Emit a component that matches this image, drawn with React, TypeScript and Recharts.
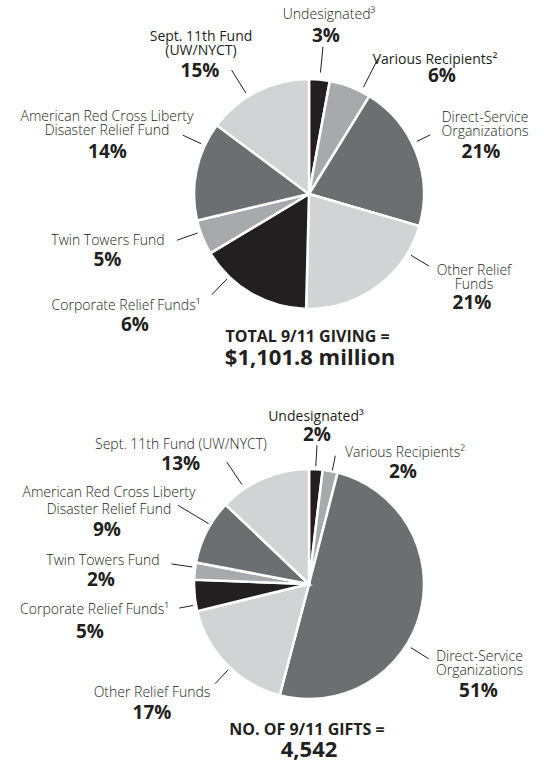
import React from "react";
import { PieChart, Pie, Cell } from "recharts";

// ---- data ----
const categories = [
  "Undesignated³",
  "Various Recipients²",
  "Direct-Service Organizations",
  "Other Relief Funds",
  "Corporate Relief Funds¹",
  "Twin Towers Fund",
  "American Red Cross Liberty Disaster Relief Fund",
  "Sept. 11th Fund (UW/NYCT)",
];
// share of dollars (slice sizes as drawn)
const givingShares = [2.9, 5.9, 20.7, 20.9, 16, 4.9, 13.9, 14.8];
// share of number of gifts (slice sizes as drawn)
const giftShares = [1.9, 2.1, 50.1, 17.1, 4.4, 2.4, 9.1, 12.9];
// printed percentage labels
const givingPctLabels = ["3%", "6%", "21%", "21%", "6%", "5%", "14%", "15%"];
const giftPctLabels = ["2%", "2%", "51%", "17%", "5%", "2%", "9%", "13%"];
const givingTotalLines = ["TOTAL 9/11 GIVING =", "$1,101.8 million"];
const giftTotalLines = ["NO. OF 9/11 GIFTS =", "4,542"];

// label line breaks
const givingNameLines = [
  ["Undesignated³"],
  ["Various Recipients²"],
  ["Direct-Service", "Organizations"],
  ["Other Relief", "Funds"],
  ["Corporate Relief Funds¹"],
  ["Twin Towers Fund"],
  ["American Red Cross Liberty", "Disaster Relief Fund"],
  ["Sept. 11th Fund", "(UW/NYCT)"],
];
const giftNameLines = [
  ["Undesignated³"],
  ["Various Recipients²"],
  ["Direct-Service", "Organizations"],
  ["Other Relief Funds"],
  ["Corporate Relief Funds¹"],
  ["Twin Towers Fund"],
  ["American Red Cross Liberty", "Disaster Relief Fund"],
  ["Sept. 11th Fund (UW/NYCT)"],
];

// ---- styling / layout ----
const COLORS = ["#231f20", "#a7a9ac", "#6d6e71", "#d1d3d4", "#231f20", "#a7a9ac", "#6d6e71", "#d1d3d4"];
const FONT = "'Open Sans', 'Noto Sans', sans-serif";
const INK = "#231f20";

type Lay = { x: number; y: number; lh: number; px: number; py: number; w: number; a: number; r1: number; r2: number };

const givingLayout: Lay[] = [
  { x: 20, y: -175, lh: 13, px: 17, py: -152, w: 300, a: 5.4, r1: 122, r2: 148 },
  { x: 126, y: -130, lh: 13, px: 133, py: -112, w: 500, a: 27, r1: 120, r2: 152 },
  { x: 176, y: -72, lh: 14, px: 172, py: -36, w: 300, a: 64, r1: 120, r2: 135 },
  { x: 165, y: 81, lh: 14, px: 163, py: 115, w: 300, a: 121, r1: 119, r2: 140 },
  { x: -183, y: 116, lh: 13, px: -174, py: 137, w: 300, a: 224, r1: 118, r2: 140 },
  { x: -201, y: 51, lh: 13, px: -201.5, py: 72, w: 300, a: 250.7, r1: 118, r2: 140 },
  { x: -202, y: -73, lh: 14, px: -201.5, py: -36, w: 300, a: 295, r1: 119, r2: 139 },
  { x: -108, y: -153, lh: 14, px: -109, py: -117, w: 500, a: 328, r1: 119, r2: 146 },
];
const giftLayout: Lay[] = [
  { x: 7, y: -163, lh: 13, px: 8, py: -143, w: 500, a: 3.3, r1: 118, r2: 139 },
  { x: 96, y: -127, lh: 13, px: 94, py: -106, w: 300, a: 11.6, r1: 116, r2: 131 },
  { x: 170.5, y: 77, lh: 14, px: 169.5, py: 113, w: 300, a: 122, r1: 120, r2: 141 },
  { x: -157, y: 113, lh: 13, px: -157, py: 135, w: 300, a: 223.3, r1: 118, r2: 137 },
  { x: -214.5, y: 30, lh: 13, px: -219, py: 54, w: 300, a: 259.5, r1: 118, r2: 132 },
  { x: -206, y: -19, lh: 13, px: -208, py: 2, w: 300, a: 278.3, r1: 118, r2: 139 },
  { x: -200, y: -87, lh: 17, px: -202, py: -48, w: 300, a: 301, r1: 117, r2: 153 },
  { x: -128, y: -135, lh: 13, px: -128.3, py: -114, w: 300, a: 326, r1: 120, r2: 147 },
];

const givingData = categories.map((name, i) => ({ name, value: givingShares[i] }));
const giftData = categories.map((name, i) => ({ name, value: giftShares[i] }));

const makeLabel = (nameLines: string[][], pcts: string[], layout: Lay[]) => (p: any) => {
  const i = p.index;
  const L = layout[i];
  const cx = p.cx;
  const cy = p.cy;
  const rad = (L.a * Math.PI) / 180;
  const x1 = cx + L.r1 * Math.sin(rad);
  const y1 = cy - L.r1 * Math.cos(rad);
  const x2 = cx + L.r2 * Math.sin(rad);
  const y2 = cy - L.r2 * Math.cos(rad);
  return (
    <g key={`lab-${i}`}>
      <line x1={x1} y1={y1} x2={x2} y2={y2} stroke={INK} strokeWidth={1} />
      {nameLines[i].map((t, k) => (
        <text
          key={k}
          x={cx + L.x}
          y={cy + L.y + k * L.lh}
          textAnchor="middle"
          fontFamily={FONT}
          fontSize={14}
          fontWeight={L.w}
          fill={INK}
        >
          {t}
        </text>
      ))}
      <text
        x={cx + L.px}
        y={cy + L.py}
        textAnchor="middle"
        fontFamily={FONT}
        fontSize={19}
        fontWeight={700}
        fill={INK}
      >
        {pcts[i]}
      </text>
    </g>
  );
};

const W = 544;
const H = 762;
const CX = 309;
const CY_TOP = 194;
const CY_BOT = 584;
const R = 115;

export default function App() {
  return (
    <div style={{ position: "absolute", left: 0, top: 0, width: W, height: H, background: "#fff" }}>
      <PieChart width={W} height={H} margin={{ top: 0, right: 0, bottom: 0, left: 0 }}>
        <Pie
          data={givingData}
          dataKey="value"
          nameKey="name"
          cx={CX}
          cy={CY_TOP}
          outerRadius={R}
          startAngle={90}
          endAngle={-270}
          stroke="#ffffff"
          strokeWidth={2.5}
          isAnimationActive={false}
          labelLine={false}
          label={makeLabel(givingNameLines, givingPctLabels, givingLayout)}
        >
          {givingData.map((d, i) => (
            <Cell key={d.name} fill={COLORS[i]} />
          ))}
        </Pie>
        <Pie
          data={giftData}
          dataKey="value"
          nameKey="name"
          cx={CX}
          cy={CY_BOT}
          outerRadius={R}
          startAngle={90}
          endAngle={-270}
          stroke="#ffffff"
          strokeWidth={2.5}
          isAnimationActive={false}
          labelLine={false}
          label={makeLabel(giftNameLines, giftPctLabels, giftLayout)}
        >
          {giftData.map((d, i) => (
            <Cell key={d.name} fill={COLORS[i]} />
          ))}
        </Pie>
      </PieChart>
      <svg width={W} height={H} style={{ position: "absolute", left: 0, top: 0, pointerEvents: "none" }}>
        <text x={307.5} y={342} textAnchor="middle" fontFamily={FONT} fontSize={16} fontWeight={700} fill={INK}>
          {givingTotalLines[0]}
        </text>
        <text x={310} y={365} textAnchor="middle" fontFamily={FONT} fontSize={22} fontWeight={700} fill={INK}>
          {givingTotalLines[1]}
        </text>
        <text x={307} y={735} textAnchor="middle" fontFamily={FONT} fontSize={16} fontWeight={700} fill={INK}>
          {giftTotalLines[0]}
        </text>
        <text x={309} y={757} textAnchor="middle" fontFamily={FONT} fontSize={22} fontWeight={700} fill={INK}>
          {giftTotalLines[1]}
        </text>
      </svg>
    </div>
  );
}
